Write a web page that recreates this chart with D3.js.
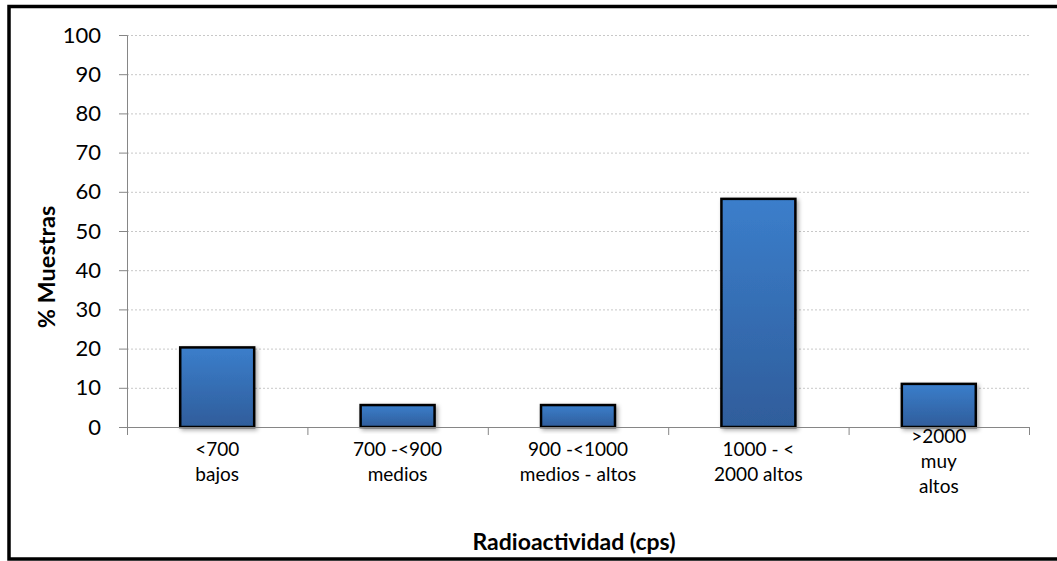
<!DOCTYPE html>
<html>
<head>
<meta charset="utf-8">
<script src="https://cdn.jsdelivr.net/npm/d3@7"></script>
<style>
  html, body { margin: 0; padding: 0; background: #fff; }
  svg { display: block; font-family: Lato, "Open Sans", sans-serif; }
</style>
</head>
<body>
<svg id="chart" width="1057" height="561"></svg>
<script>
// Radioactivity classes (cps) and the share of samples in each
const categories = [
  ["<700", "bajos"],
  ["700 -<900", "medios"],
  ["900 -<1000", "medios - altos"],
  ["1000 - <", "2000 altos"],
  [">2000", "muy", "altos"]
];
const values = [20.3, 5.6, 5.6, 58.2, 11.0];
const yTicks = [0, 10, 20, 30, 40, 50, 60, 70, 80, 90, 100];
const yTitle = "% Muestras";
const xTitle = "Radioactividad (cps)";

const svg = d3.select("#chart");
const W = 1057, H = 561;
const plot = { left: 127, right: 1029, top: 35, bottom: 427 };

// outer frame (runs off the right edge of the page)
svg.append("rect")
  .attr("x", 9).attr("y", 6.5)
  .attr("width", W + 20).attr("height", 552.5)
  .attr("fill", "#fff")
  .attr("stroke", "#000").attr("stroke-width", 3.5);

const defs = svg.append("defs");
const grad = defs.append("linearGradient")
  .attr("id", "barFill").attr("x1", 0).attr("y1", 0).attr("x2", 0).attr("y2", 1);
grad.append("stop").attr("offset", "0%").attr("stop-color", "#3b7ecb");
grad.append("stop").attr("offset", "100%").attr("stop-color", "#2f5d9b");

const shadow = defs.append("filter").attr("id", "barShadow")
  .attr("x", "-20%").attr("y", "-20%").attr("width", "150%").attr("height", "150%");
shadow.append("feDropShadow")
  .attr("dx", 2).attr("dy", 2).attr("stdDeviation", 2)
  .attr("flood-color", "#000").attr("flood-opacity", 0.35);

const x = d3.scaleBand()
  .domain(d3.range(categories.length))
  .range([plot.left, plot.right])
  .padding(0);
const y = d3.scaleLinear().domain([0, 100]).range([plot.bottom, plot.top]);

// dotted horizontal gridlines
svg.append("g")
  .selectAll("line")
  .data(yTicks.filter(t => t > 0))
  .join("line")
  .attr("x1", plot.left).attr("x2", plot.right)
  .attr("y1", d => y(d) + 0.5).attr("y2", d => y(d) + 0.5)
  .attr("stroke", "#c8c8c8").attr("stroke-width", 1)
  .attr("stroke-dasharray", "2,2");

// y axis
const yAxis = svg.append("g")
  .attr("transform", `translate(${plot.left},0)`)
  .call(d3.axisLeft(y).tickValues(yTicks).tickSize(8).tickPadding(18).tickFormat(d3.format("d")));
yAxis.select(".domain").attr("stroke", "#868686");
yAxis.selectAll(".tick line").attr("stroke", "#868686");
yAxis.selectAll(".tick text")
  .attr("fill", "#000").attr("font-size", 22)
  .attr("font-family", "Lato, 'Open Sans', sans-serif");

// bars
const barW = x.bandwidth() * 0.41;
svg.append("g")
  .selectAll("rect")
  .data(values)
  .join("rect")
  .attr("x", (d, i) => x(i) + (x.bandwidth() - barW) / 2)
  .attr("y", d => y(d))
  .attr("width", barW)
  .attr("height", d => y(0) - y(d))
  .attr("fill", "url(#barFill)")
  .attr("stroke", "#000").attr("stroke-width", 2.5)
  .attr("filter", "url(#barShadow)");

// x axis with ticks at category boundaries
const xg = svg.append("g");
xg.append("line")
  .attr("x1", plot.left).attr("x2", plot.right)
  .attr("y1", plot.bottom + 0.5).attr("y2", plot.bottom + 0.5)
  .attr("stroke", "#868686");
xg.selectAll("line.tick")
  .data(d3.range(categories.length + 1))
  .join("line")
  .attr("class", "tick")
  .attr("x1", i => (i < categories.length ? x(i) : plot.right) + 0.5)
  .attr("x2", i => (i < categories.length ? x(i) : plot.right) + 0.5)
  .attr("y1", plot.bottom).attr("y2", plot.bottom + 8)
  .attr("stroke", "#868686");

// category labels, each block centred below its bar
const lineH = 25;
const blockMid = 462;
xg.selectAll("text.cat")
  .data(categories)
  .join("text")
  .attr("class", "cat")
  .attr("text-anchor", "middle")
  .attr("font-size", 19)
  .attr("fill", "#000")
  .each(function (lines, i) {
    const t = d3.select(this);
    const cx = x(i) + x.bandwidth() / 2;
    const first = blockMid - (lines.length - 1) * lineH / 2 + 6;
    lines.forEach((s, k) => {
      t.append("tspan").attr("x", cx).attr("y", first + k * lineH).text(s);
    });
  });

// axis titles
svg.append("text")
  .attr("x", (plot.left + plot.right) / 2 - 4)
  .attr("y", 550)
  .attr("text-anchor", "middle")
  .attr("font-size", 23).attr("font-weight", "bold")
  .text(xTitle);

svg.append("text")
  .attr("transform", "translate(55,267) rotate(-90)")
  .attr("text-anchor", "middle")
  .attr("font-size", 23.5).attr("font-weight", "bold")
  .text(yTitle);
</script>
</body>
</html>
